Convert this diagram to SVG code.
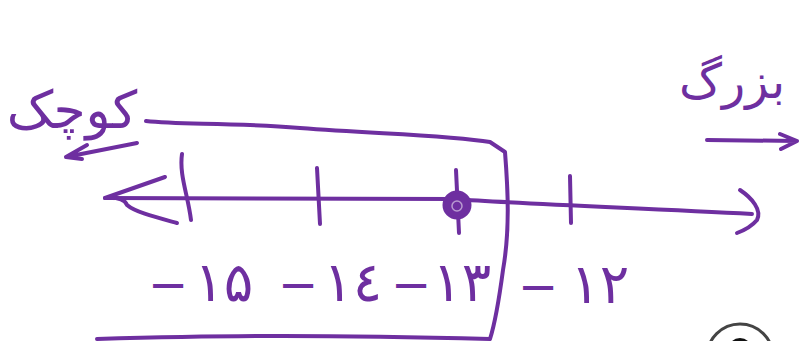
<svg xmlns="http://www.w3.org/2000/svg" width="800" height="341" viewBox="0 0 800 341">
<style>
.p{fill:none;stroke:#6E2FA0;stroke-width:4;stroke-linecap:round;stroke-linejoin:round}
.t{fill:#6E2FA0;font-family:"DejaVu Sans","Noto Sans",sans-serif}
.m{font-size:48px}
.d{font-size:55px}
</style>
<rect width="800" height="341" fill="#fff"/>
<g id="connectors">
<path id="box" class="p" d="M146,121 C180,125 230,122 300,128 C380,134 450,135 490,142 L505,152 C508,190 510,230 503,270 C499,300 496,320 490,339 M97,339 C200,336 300,334 490,339"/>
<path id="numberline" class="p" d="M105,198 L455,199 C520,204 640,208 752,214"/>
<path id="left-arrowhead" class="p" d="M165,177 L105,198 M105,198 C120,197 125,200 127,205 C135,212 155,217 177,223"/>
<path id="right-hook" class="p" d="M740,190 C752,198 762,210 757,220 C752,226 745,230 737,233"/>
<path id="ticks" class="p" d="M182,154 C179,175 188,195 191,220 M317,168 L320,224 M456,170 L459,233 M570,176 L571,223"/>
<path id="small-left-arrow" class="p" d="M137,143 L66,157 M87,145 L66,157 L82,159"/>
<path id="small-right-arrow" class="p" d="M707,140 L797,141 M780,134 L797,141 L781,149"/>
</g>
<g id="point-13">
<circle cx="457" cy="205" r="13" fill="#6E2FA0" stroke="#6E2FA0" stroke-width="3"/>
<circle cx="457" cy="206" r="5" fill="none" stroke="#B89AD0" stroke-width="1.5"/>
</g>
<g id="label-15"><text class="t" x="148" y="301"><tspan class="m">−</tspan><tspan class="d" dx="6">۱۵</tspan></text></g>
<g id="label-14"><text class="t" x="278" y="301"><tspan class="m">−</tspan><tspan class="d" dx="5">۱٤</tspan></text></g>
<g id="label-13"><text class="t" x="391" y="301"><tspan class="m">−</tspan><tspan class="d" dx="1" letter-spacing="-6">۱۳</tspan></text></g>
<g id="label-12"><text class="t" x="518" y="303"><tspan class="m">−</tspan><tspan class="d" dx="12" letter-spacing="4">۱۲</tspan></text></g>
<g id="label-smaller"><text class="t" x="72" y="128" font-size="52" text-anchor="middle">کوچک</text></g>
<g id="label-larger"><text class="t" x="732" y="98" font-size="48" text-anchor="middle">بزرگ</text></g>
<g id="corner-icon">
<circle cx="740" cy="357" r="33" fill="none" stroke="#444" stroke-width="3"/>
<circle cx="740" cy="350" r="12" fill="#111"/>
</g>
</svg>
